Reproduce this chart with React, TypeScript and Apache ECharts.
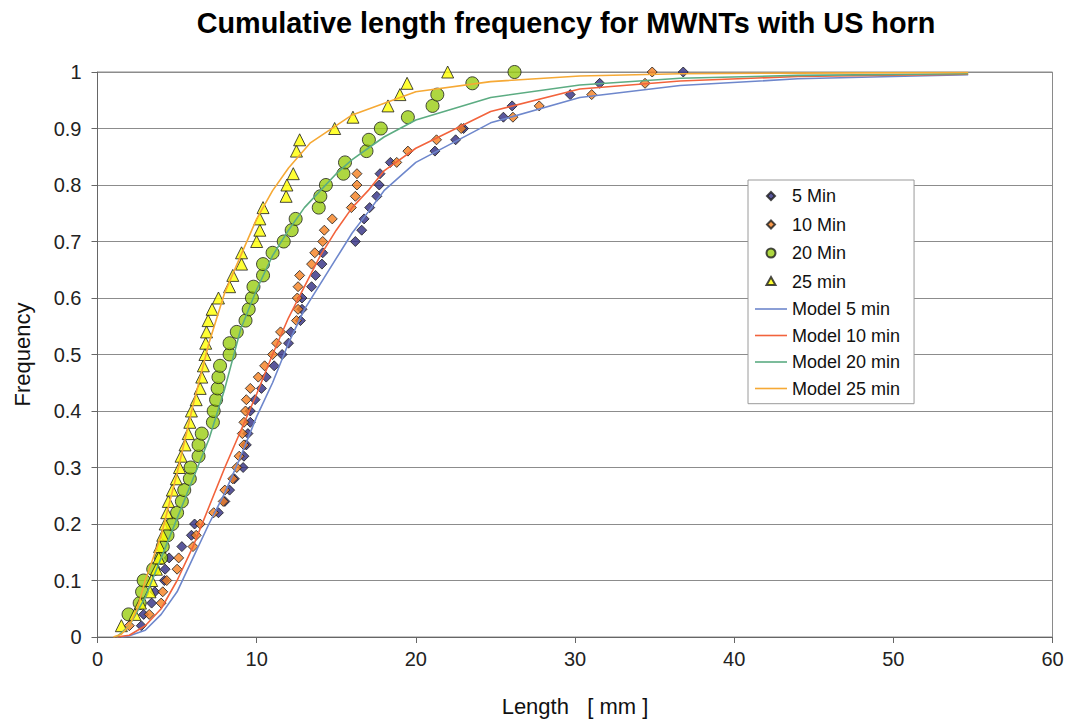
import React, { useEffect, useRef } from "react";
import * as echarts from "echarts";

// Measured cumulative frequencies: [length in mm, cumulative frequency]
const min5: [number, number][] = [
  [2.75, 0.02], [2.9, 0.04], [3.4, 0.06], [3.6, 0.08], [4.2, 0.1], [4.25, 0.12], [4.5, 0.14], [5.3, 0.16],
  [5.9, 0.18], [6.1, 0.2], [7.6, 0.22], [8.0, 0.24], [8.3, 0.26], [8.6, 0.28], [9.15, 0.3], [9.2, 0.32],
  [9.35, 0.34], [9.45, 0.36], [9.6, 0.38], [9.6, 0.4], [9.9, 0.42], [10.3, 0.44], [10.6, 0.46], [11.1, 0.48],
  [11.6, 0.5], [12.0, 0.52], [12.15, 0.54], [12.75, 0.56], [12.85, 0.58], [12.85, 0.6], [13.45, 0.62],
  [13.7, 0.64], [14.1, 0.66], [14.15, 0.68], [16.2, 0.7], [16.6, 0.72], [16.75, 0.74], [17.1, 0.76],
  [17.55, 0.78], [17.7, 0.8], [17.75, 0.82], [18.4, 0.84], [21.2, 0.86], [22.5, 0.88], [23.0, 0.9],
  [25.5, 0.92], [26.05, 0.94], [29.7, 0.96], [31.55, 0.98], [36.8, 1.0],
];

const min10: [number, number][] = [
  [2.0, 0.02], [3.25, 0.04], [4.0, 0.06], [4.1, 0.08], [4.35, 0.1], [5.0, 0.12], [5.1, 0.14], [6.0, 0.16],
  [6.2, 0.18], [6.45, 0.2], [7.3, 0.22], [7.9, 0.24], [8.0, 0.26], [8.5, 0.28], [8.75, 0.3], [8.9, 0.32],
  [9.2, 0.34], [9.1, 0.36], [9.2, 0.38], [9.3, 0.4], [9.35, 0.42], [9.6, 0.44], [10.1, 0.46], [10.5, 0.48],
  [11.0, 0.5], [11.25, 0.52], [11.5, 0.54], [12.5, 0.56], [12.6, 0.58], [12.55, 0.6], [12.6, 0.62],
  [12.7, 0.64], [13.45, 0.66], [13.65, 0.68], [14.15, 0.7], [14.25, 0.72], [14.75, 0.74], [15.95, 0.76],
  [16.2, 0.78], [16.3, 0.8], [16.3, 0.82], [18.8, 0.84], [19.5, 0.86], [21.3, 0.88], [22.85, 0.9],
  [26.1, 0.92], [27.75, 0.94], [31.05, 0.96], [34.4, 0.98], [34.85, 1.0],
];

const min20: [number, number][] = [
  [1.95, 0.04], [2.65, 0.06], [2.8, 0.08], [2.9, 0.1], [3.5, 0.12], [4.0, 0.14], [4.1, 0.16], [4.4, 0.18],
  [4.7, 0.2], [5.0, 0.22], [5.3, 0.24], [5.45, 0.26], [5.8, 0.28], [5.85, 0.3], [6.35, 0.32], [6.35, 0.34],
  [6.55, 0.36], [7.25, 0.38], [7.3, 0.4], [7.45, 0.42], [7.55, 0.44], [7.6, 0.46], [7.7, 0.48], [8.3, 0.5],
  [8.3, 0.52], [8.75, 0.54], [9.3, 0.56], [9.5, 0.58], [9.7, 0.6], [9.8, 0.62], [10.4, 0.64], [10.4, 0.66],
  [11.0, 0.68], [11.7, 0.7], [12.2, 0.72], [12.45, 0.74], [13.9, 0.76], [14.0, 0.78], [14.35, 0.8],
  [15.45, 0.82], [15.55, 0.84], [16.9, 0.86], [17.05, 0.88], [17.8, 0.9], [19.5, 0.92], [21.05, 0.94],
  [21.35, 0.96], [23.55, 0.98], [26.2, 1.0],
];

const min25: [number, number][] = [
  [1.5, 0.02], [2.35, 0.04], [2.7, 0.06], [3.3, 0.08], [3.4, 0.1], [3.7, 0.12], [3.85, 0.14], [3.9, 0.16],
  [4.1, 0.18], [4.25, 0.2], [4.35, 0.22], [4.45, 0.24], [4.7, 0.26], [4.95, 0.28], [5.15, 0.3], [5.25, 0.32],
  [5.5, 0.34], [5.7, 0.36], [5.8, 0.38], [5.9, 0.4], [6.2, 0.42], [6.45, 0.44], [6.55, 0.46], [6.65, 0.48],
  [6.75, 0.5], [6.8, 0.52], [6.85, 0.54], [6.95, 0.56], [7.2, 0.58], [7.6, 0.6], [8.3, 0.62], [8.5, 0.64],
  [9.05, 0.66], [9.05, 0.68], [10.0, 0.7], [10.2, 0.72], [10.2, 0.74], [10.4, 0.76], [11.85, 0.78],
  [11.9, 0.8], [12.3, 0.82], [12.5, 0.86], [12.7, 0.88], [14.9, 0.9], [16.05, 0.92], [18.25, 0.94],
  [19.0, 0.96], [19.45, 0.98], [22.0, 1.0],
];

// Fitted model curves: [length in mm, cumulative frequency]
const model5: [number, number][] = [
  [1.5, 0], [2, 0.002], [3, 0.012], [4, 0.04], [5, 0.08], [6, 0.14], [7, 0.2], [8, 0.255], [9, 0.32],
  [10, 0.39], [11, 0.45], [12, 0.52], [13, 0.58], [14, 0.625], [15, 0.67], [16, 0.715], [17, 0.752],
  [18, 0.79], [20, 0.84], [24.7, 0.91], [30.3, 0.955], [36.6, 0.976], [44, 0.988], [54.7, 0.995],
];

const model10: [number, number][] = [
  [1.2, 0], [2, 0.003], [3, 0.02], [4, 0.05], [5, 0.1], [6, 0.16], [7, 0.23], [8, 0.3], [9, 0.365],
  [10, 0.43], [11, 0.5], [12, 0.565], [13, 0.62], [14, 0.675], [15, 0.72], [16, 0.76], [17, 0.79],
  [18, 0.825], [20, 0.865], [24.7, 0.93], [30.3, 0.97], [36.6, 0.984], [44, 0.992], [54.7, 0.996],
];

const model20: [number, number][] = [
  [1.2, 0], [2, 0.02], [3, 0.07], [4, 0.14], [5, 0.21], [6, 0.28], [7, 0.35], [8, 0.44], [9, 0.545],
  [10, 0.615], [11, 0.675], [12, 0.72], [13, 0.76], [14, 0.79], [15, 0.82], [16, 0.845], [17, 0.865],
  [18, 0.885], [20, 0.915], [24.7, 0.955], [30.3, 0.977], [36.6, 0.989], [44, 0.994], [54.7, 0.997],
];

const model25: [number, number][] = [
  [1, 0], [1.5, 0.005], [2, 0.02], [2.5, 0.05], [3, 0.1], [4, 0.18], [5, 0.29], [6, 0.41], [7, 0.52],
  [8, 0.61], [9, 0.675], [10, 0.74], [11, 0.79], [12, 0.83], [13.35, 0.874], [16, 0.924], [20, 0.965],
  [24.7, 0.983], [30.3, 0.993], [36.6, 0.997], [44, 0.998], [54.7, 0.999],
];

const FONT = "'Liberation Sans', Arial, sans-serif";
const MARKER_BORDER = "#1c1c1c";

// Small legend glyphs drawn inside a 32x19 box (the leading moves fix the box extent)
const ICON_DIAMOND = "path://M0,0M32,19M16,5.5L20,9.5L16,13.5L12,9.5Z";
const ICON_CIRCLE = "path://M0,0M32,19M11.5,9.5A4.5,4.5,0,1,1,20.5,9.5A4.5,4.5,0,1,1,11.5,9.5Z";
const ICON_TRIANGLE = "path://M0,0M32,19M16,5L20.5,13L11.5,13Z";
const ICON_LINE = "path://M0,0M32,19M0,8.7L32,8.7L32,10.3L0,10.3Z";

function scatter(name: string, data: [number, number][], symbol: string, size: number, color: string) {
  return {
    name,
    type: "scatter",
    data,
    symbol,
    symbolSize: size,
    itemStyle: { color, borderColor: MARKER_BORDER, borderWidth: 1 },
    z: 2,
  };
}

function model(name: string, data: [number, number][], color: string) {
  return {
    name,
    type: "line",
    data,
    symbol: "none",
    smooth: false,
    lineStyle: { color, width: 1.6 },
    itemStyle: { color },
    z: 3,
  };
}

export default function App() {
  const ref = useRef<HTMLDivElement>(null);

  useEffect(() => {
    const chart = echarts.init(ref.current!, null, { renderer: "svg" });
    chart.setOption({
      animation: false,
      backgroundColor: "#ffffff",
      textStyle: { fontFamily: FONT },
      graphic: [
        {
          type: "text",
          x: 566,
          y: 23,
          style: {
            text: "Cumulative length frequency for MWNTs with US horn",
            fontFamily: FONT,
            fontSize: 28.8,
            fontWeight: "bold",
            fill: "#000",
            align: "center",
            verticalAlign: "middle",
          },
        },
      ],
      grid: {
        left: 97.5,
        right: 19.5,
        top: 72,
        bottom: 87,
        show: true,
        borderColor: "#8a8a8a",
        borderWidth: 1,
      },
      legend: {
        orient: "vertical",
        left: 748,
        top: 180,
        padding: [5.5, 14, 5.7, 6],
        itemWidth: 32,
        itemHeight: 19,
        itemGap: 7.5,
        backgroundColor: "#fff",
        borderColor: "#9a9a9a",
        borderWidth: 1,
        textStyle: { fontFamily: FONT, fontSize: 18, lineHeight: 19, color: "#111" },
        data: [
          { name: "5 Min", icon: ICON_DIAMOND },
          { name: "10 Min", icon: ICON_DIAMOND },
          { name: "20 Min", icon: ICON_CIRCLE },
          { name: "25 min", icon: ICON_TRIANGLE },
          { name: "Model 5 min", icon: ICON_LINE, itemStyle: { borderWidth: 0 } },
          { name: "Model 10 min", icon: ICON_LINE, itemStyle: { borderWidth: 0 } },
          { name: "Model 20 min", icon: ICON_LINE, itemStyle: { borderWidth: 0 } },
          { name: "Model 25 min", icon: ICON_LINE, itemStyle: { borderWidth: 0 } },
        ],
      },
      xAxis: {
        type: "value",
        min: 0,
        max: 60,
        interval: 10,
        name: "Length   [ mm ]",
        nameLocation: "middle",
        nameGap: 58,
        nameTextStyle: { fontFamily: FONT, fontSize: 22, color: "#111" },
        axisLine: { show: true, lineStyle: { color: "#666", width: 1 } },
        axisTick: { show: true, length: 6, lineStyle: { color: "#666" } },
        axisLabel: { fontFamily: FONT, fontSize: 20, color: "#222", margin: 12 },
        splitLine: { show: false },
      },
      yAxis: {
        type: "value",
        min: 0,
        max: 1,
        interval: 0.1,
        name: "Frequency",
        nameLocation: "middle",
        nameGap: 64,
        nameTextStyle: { fontFamily: FONT, fontSize: 22, color: "#111" },
        axisLine: { show: true, lineStyle: { color: "#666", width: 1 } },
        axisTick: { show: true, length: 6, lineStyle: { color: "#666" } },
        axisLabel: { fontFamily: FONT, fontSize: 20, color: "#222", margin: 16 },
        splitLine: { show: true, lineStyle: { color: "#8c8c8c", width: 1 } },
      },
      series: [
        scatter("5 Min", min5, "diamond", 10, "#312d82"),
        scatter("10 Min", min10, "diamond", 10, "#f5801f"),
        scatter("20 Min", min20, "circle", 13, "#9acd12"),
        scatter("25 min", min25, "triangle", 12, "#ffff00"),
        model("Model 5 min", model5, "#6e87cc"),
        model("Model 10 min", model10, "#f2633c"),
        model("Model 20 min", model20, "#5cac82"),
        model("Model 25 min", model25, "#f6a935"),
      ],
    });
    return () => chart.dispose();
  }, []);

  return (
    <div
      ref={ref}
      style={{ position: "absolute", left: 0, top: 0, width: 1072, height: 724, background: "#fff" }}
    />
  );
}
